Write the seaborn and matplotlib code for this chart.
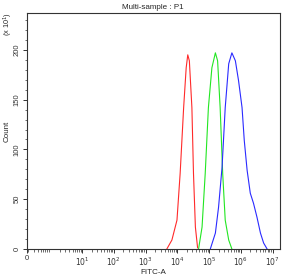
import matplotlib
matplotlib.use("Agg")
import matplotlib.pyplot as plt
import matplotlib.ticker as mticker
import numpy as np
import pandas as pd
import seaborn as sns

# log10(FITC-A) positions and counts (x10^1)
red_log = [3.67, 3.83, 3.99, 4.09, 4.20, 4.28, 4.33, 4.38, 4.46, 4.51, 4.57, 4.64]
red_cnt = [0, 9, 29, 76, 142, 182, 195, 189, 142, 76, 22, 1]
green_log = [4.67, 4.78, 4.88, 4.98, 5.09, 5.20, 5.27, 5.35, 5.43, 5.51, 5.62, 5.72]
green_cnt = [0, 22, 76, 142, 182, 197, 189, 142, 76, 29, 9, 0]
blue_log = [5.04, 5.20, 5.30, 5.41, 5.51, 5.62, 5.72, 5.83, 5.93, 6.04, 6.11,
            6.20, 6.30, 6.40, 6.51, 6.62, 6.72, 6.83]
blue_cnt = [0, 16, 42, 82, 142, 186, 197, 189, 169, 142, 109,
            79, 56, 46, 32, 16, 6, 0]

samples = ["red", "green", "blue"]
colors = {"red": "#ff2a2a", "green": "#22e622", "blue": "#2a2aff"}
x_tick_exps = [1, 2, 3, 4, 5, 6, 7]
y_ticks = [0, 50, 100, 150, 200]

frames = []
for name, lx, c in zip(samples, [red_log, green_log, blue_log], [red_cnt, green_cnt, blue_cnt]):
    frames.append(pd.DataFrame({"FITC": 10 ** np.array(lx), "Count": c, "sample": name}))
df = pd.concat(frames, ignore_index=True)

sns.set_style("ticks")
plt.rcParams["font.family"] = ["Liberation Sans", "DejaVu Sans"]

fig = plt.figure(figsize=(2.85, 2.75), dpi=100)
ax = fig.add_axes([27 / 285, 1 - 249 / 275, (279.5 - 27) / 285, (249 - 13) / 275])

sns.lineplot(data=df, x="FITC", y="Count", hue="sample", palette=colors,
             sort=False, estimator=None, linewidth=0.8, legend=False, ax=ax)

ax.set_xscale("log")
xmin = 10 ** -0.735
ax.set_xlim(xmin, 10 ** 7.22)
ax.set_ylim(0, 237)

ax.set_xticks([xmin] + [10 ** e for e in x_tick_exps])
ax.set_xticklabels(["0"] + [r"$10^{%d}$" % e for e in x_tick_exps])
ax.xaxis.set_minor_locator(mticker.LogLocator(base=10, subs=np.arange(2, 10)))
ax.xaxis.set_minor_formatter(mticker.NullFormatter())

ax.set_yticks(y_ticks)
ax.set_yticklabels([str(v) for v in y_ticks], rotation=90, va="center")
ax.yaxis.set_minor_locator(mticker.MultipleLocator(10))

for s in ax.spines.values():
    s.set_linewidth(0.8)
    s.set_color("#333333")
ax.tick_params(which="major", length=3, width=0.7, labelsize=5.5, pad=1.5, colors="#333333")
ax.tick_params(which="minor", length=1.8, width=0.5, colors="#333333")

ax.set_xlabel("FITC-A", fontsize=5.8, labelpad=1)
ax.set_ylabel("Count", fontsize=5.8, labelpad=2)
ax.set_title("Multi-sample : P1", fontsize=5.8, pad=3)
fig.text(8 / 285, 1 - 24 / 275, r"(x 10$^{1}$)", rotation=90, fontsize=5.3,
         ha="center", va="center")

fig.savefig("out.png", dpi=100, facecolor="white")
